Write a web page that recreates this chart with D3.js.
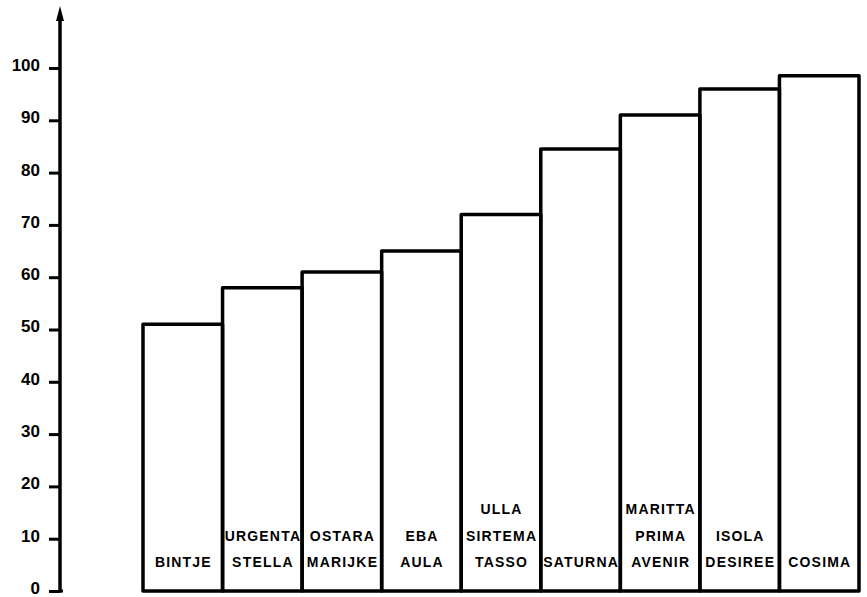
<!DOCTYPE html>
<html>
<head>
<meta charset="utf-8">
<script src="https://cdn.jsdelivr.net/npm/d3@7"></script>
<style>
  html, body { margin: 0; padding: 0; background: #fff; }
  svg { display: block; }
  text { font-family: "Liberation Sans", Arial, Helvetica, sans-serif; font-weight: bold; fill: #000; }
</style>
</head>
<body>
<svg id="chart" width="867" height="597"></svg>
<script>
// Potato varieties grouped per bar, with the bar value (index)
const groups = ["BINTJE", "URGENTA", "OSTARA", "EBA", "ULLA", "SATURNA", "MARITTA", "ISOLA", "COSIMA"];
const varietyLines = [
  ["BINTJE"],
  ["URGENTA", "STELLA"],
  ["OSTARA", "MARIJKE"],
  ["EBA", "AULA"],
  ["ULLA", "SIRTEMA", "TASSO"],
  ["SATURNA"],
  ["MARITTA", "PRIMA", "AVENIR"],
  ["ISOLA", "DESIREE"],
  ["COSIMA"]
];
const values = [51, 58, 61, 65, 72, 84.5, 91, 96, 98.5];
const yTicks = [0, 10, 20, 30, 40, 50, 60, 70, 80, 90, 100];

const svg = d3.select("#chart");
const W = 867, H = 597;
svg.append("rect").attr("width", W).attr("height", H).attr("fill", "#fff");

const y = d3.scaleLinear().domain([0, 100]).range([591, 68]);
const x = d3.scaleBand().domain(groups).range([143, 859]).paddingInner(0).paddingOuter(0);
const axisX = 60;

// Bars: outlined boxes sharing their sides
const bars = svg.append("g");
groups.forEach((g, i) => {
  bars.append("rect")
    .attr("x", x(g))
    .attr("y", y(values[i]))
    .attr("width", x.bandwidth())
    .attr("height", y(0) - y(values[i]))
    .attr("fill", "none")
    .attr("stroke", "#000")
    .attr("stroke-width", 3.5)
    .attr("stroke-linejoin", "round");
});

// Variety names stacked at the foot of each bar
const lineGap = 26.5;
const baseY = 567;
groups.forEach((g, i) => {
  const lines = varietyLines[i];
  const cx = x(g) + x.bandwidth() / 2;
  lines.forEach((t, j) => {
    svg.append("text")
      .attr("x", cx + 0.6)
      .attr("y", baseY - (lines.length - 1 - j) * lineGap)
      .attr("text-anchor", "middle")
      .attr("font-size", 14)
      .attr("letter-spacing", 1.2)
      .text(t);
  });
});

// Vertical axis with ticks
const yAxis = d3.axisLeft(y).tickValues(yTicks).tickSize(11).tickPadding(9).tickFormat(d3.format("d"));
const ga = svg.append("g").attr("transform", `translate(${axisX},0)`).call(yAxis);
ga.select(".domain").remove();
ga.selectAll(".tick line").attr("stroke", "#000").attr("stroke-width", 3);
ga.selectAll(".tick text")
  .attr("font-size", 17)
  .attr("font-family", "'Liberation Sans', Arial, sans-serif")
  .attr("font-weight", "bold")
  .attr("fill", "#000")
  .attr("y", -3);

// Axis line rising to an arrow head
svg.append("line")
  .attr("x1", axisX).attr("x2", axisX)
  .attr("y1", y(0) + 1.5).attr("y2", 16)
  .attr("stroke", "#000").attr("stroke-width", 3.5);
svg.append("path")
  .attr("d", `M${axisX},6 L${axisX - 4},21 L${axisX + 4},21 Z`)
  .attr("fill", "#000");
// Small foot at the origin
svg.append("line")
  .attr("x1", axisX - 1).attr("x2", axisX + 3)
  .attr("y1", y(0)).attr("y2", y(0))
  .attr("stroke", "#000").attr("stroke-width", 3);
</script>
</body>
</html>
